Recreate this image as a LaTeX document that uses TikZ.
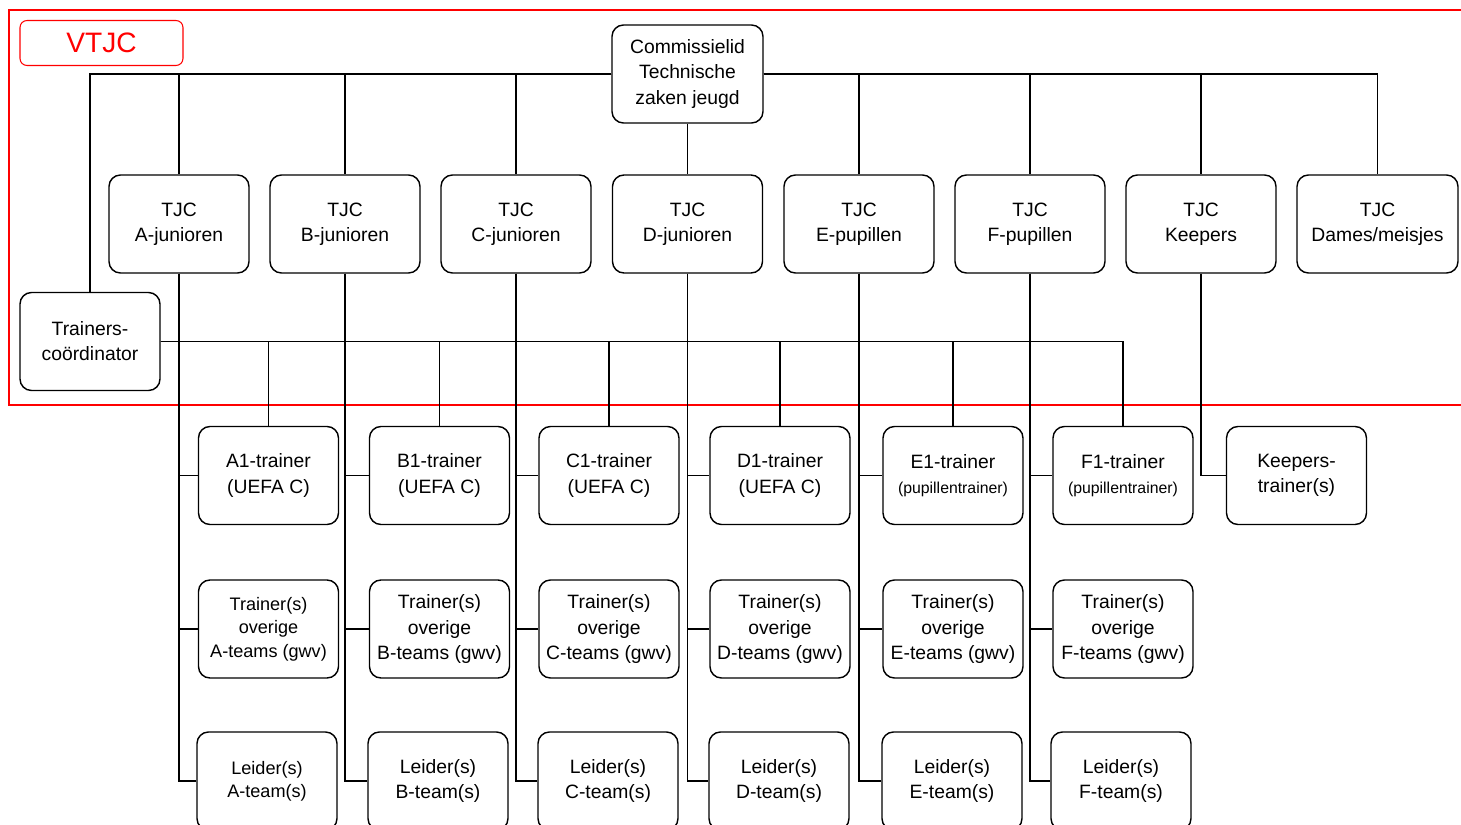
\documentclass[tikz,border=0pt]{standalone}
\usepackage{fontspec}
\setmainfont{Liberation Sans}
\usetikzlibrary{positioning}

\tikzset{
  box/.style={draw, line width=0.8pt, rounded corners=6.5pt, align=center,
    minimum width=2.8cm, minimum height=1.96cm, inner sep=1pt,
    font=\fontsize{11pt}{14.3pt}\selectfont,
    execute at begin node={\rule{0pt}{11pt}}},
  tjcbox/.style={box, minimum width=3cm},
  smalltxt/.style={font=\fontsize{10.3pt}{13.3pt}\selectfont},
  link/.style={line width=0.6pt},
}

\begin{document}
\begin{tikzpicture}[x=0.02cm,y=-0.02cm]
	\useasboundingbox (0,0) rectangle (1461,825);
	% VTJC frame
	\draw[red,line width=1.7pt] (1461,10) -- (9,10) -- (9,405) -- (1461,405);
	\node[draw=red,line width=0.6pt,rounded corners=4pt,minimum width=3.26cm,minimum height=0.9cm,
	  text=red,font=\fontsize{16pt}{18pt}\selectfont] (vtjc) at (101.5,43) {VTJC};

	% top
	\node[box,minimum width=3.02cm] (ctj) at (687.5,74) {Commissielid\\Technische\\zaken jeugd};
	\node[box] (tco) at (90,341.5) {Trainers-\\coördinator};

	% TJC row
	\node[tjcbox,minimum width=2.8cm] (tjcA) at (179,224) {TJC\\A-junioren};
	\foreach \n/\x/\t in {B/345/B-junioren,C/516/C-junioren,D/687.5/D-junioren,
	  E/859/E-pupillen,F/1030/F-pupillen,K/1201/Keepers}
	  \node[tjcbox] (tjc\n) at (\x,224) {TJC\\\t};
	\node[tjcbox,minimum width=3.22cm] (tjcDM) at (1377.5,224) {TJC\\Dames/meisjes};

	% trainers and leiders
	\foreach \n/\x in {A/268.5,B/439.5,C/609,D/780}
	  \node[box] (tr\n) at (\x,475.5) {\n1-trainer\\(UEFA C)};
	\foreach \n/\x in {E/953,F/1123}
	  \node[box] (tr\n) at (\x,475.5) {\n1-trainer\\{\fontsize{9pt}{11pt}\selectfont(pupillentrainer)}};
	\node[box] (trK) at (1296.5,475.5) {Keepers-\\trainer(s)};

	\node[box,smalltxt] (ovA) at (268.5,629) {Trainer(s)\\overige\\A-teams (gwv)};
	\foreach \n/\x in {B/439.5,C/609,D/780,E/953,F/1123}
	  \node[box] (ov\n) at (\x,629) {Trainer(s)\\overige\\\n-teams (gwv)};

	\node[box,smalltxt] (ldA) at (267,781) {Leider(s)\\A-team(s)};
	\foreach \n/\x in {B/438,C/608,D/779,E/952,F/1121}
	  \node[box] (ld\n) at (\x,781) {Leider(s)\\\n-team(s)};

	% connectors
	\draw[link] (ctj) -- (tjcD);
	\draw[link] (ctj.west) -| (tco.north);
	\foreach \n in {A,B,C}
	  \draw[link] (ctj.west) -| (tjc\n.north);
	\foreach \n in {E,F,K,DM}
	  \draw[link] (ctj.east) -| (tjc\n.north);
	\foreach \n in {A,B,C,D,E,F}
	  \draw[link] (tco.east) -| (tr\n.north);
	\foreach \n in {A,B,C,D,E,F} {
	  \draw[link] (tjc\n.south) |- (tr\n.west);
	  \draw[link] (tjc\n.south) |- (ov\n.west);
	  \draw[link] (tjc\n.south) |- (ld\n.west);
	}
	\draw[link] (tjcK.south) |- (trK.west);
\end{tikzpicture}
\end{document}
